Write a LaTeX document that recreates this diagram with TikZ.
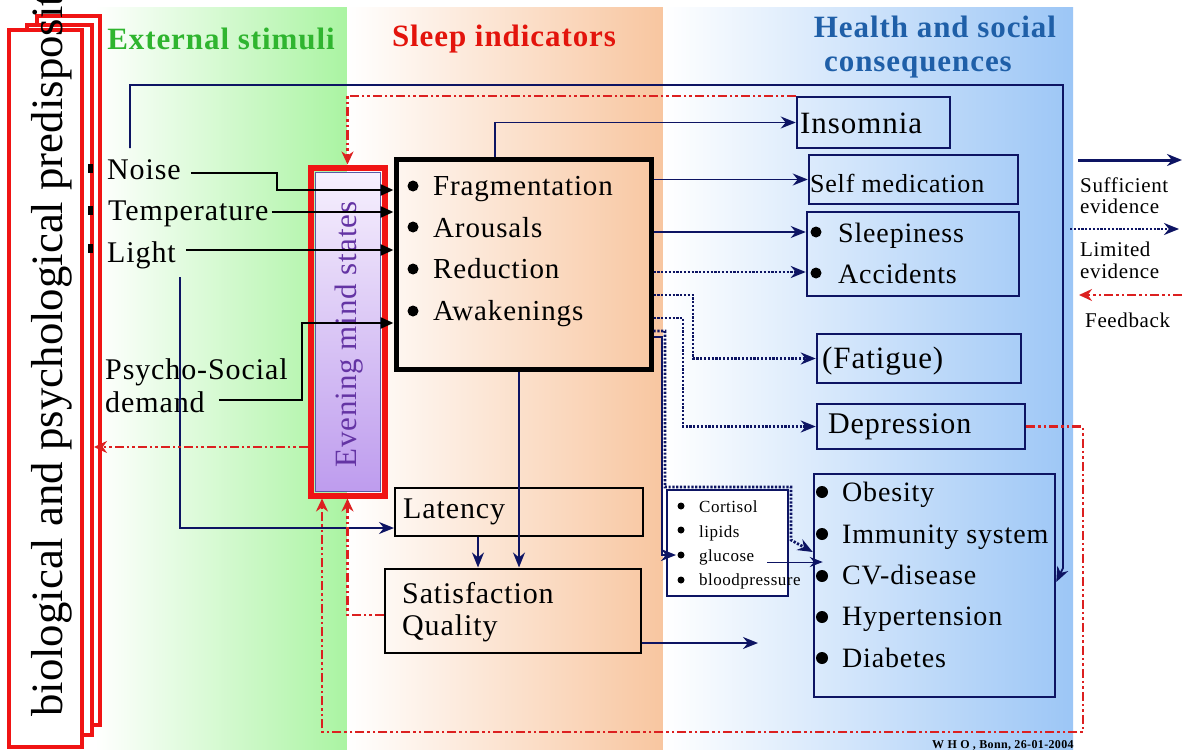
\documentclass[tikz,border=0pt]{standalone}
\usepackage{fontspec}
\setmainfont{Liberation Serif}[LetterSpace=3]
\newfontfamily\plainserif{Liberation Serif}
\usetikzlibrary{arrows.meta,calc}
\definecolor{navy}{HTML}{0D1463}
\definecolor{boxred}{HTML}{F01414}
\definecolor{fbred}{HTML}{DC2020}
\definecolor{hgreen}{HTML}{2FB52F}
\definecolor{hred}{HTML}{E3140C}
\definecolor{hblue}{HTML}{1F5FA8}
\definecolor{purp}{HTML}{6434A4}
\definecolor{bandgreen}{HTML}{AAF4A2}
\definecolor{bandorange}{HTML}{F8C6A0}
\definecolor{bandblue}{HTML}{9CC6F6}
\definecolor{evtop}{HTML}{F6F0FD}
\definecolor{evbot}{HTML}{BE9CEE}
\newcommand{\fsz}[1]{\fontsize{#1}{#1}\selectfont}
\begin{document}
\begin{tikzpicture}[x=1pt,y=-1pt,
  txt/.style={inner sep=0pt, anchor=base west, font={\fsz{30}}},
  hd/.style={inner sep=0pt, anchor=base, font={\fsz{31}\bfseries}},
  redbox/.style={draw=boxred, line width=4pt, fill=white},
  nbox/.style={draw=navy, line width=2.5pt},
  bkbox/.style={draw=black, line width=2pt},
  navyarrow/.style={draw=navy, line width=1.8pt, -{Stealth[length=15pt,width=12pt]}},
  navydot/.style={draw=navy, line width=2.8pt, dash pattern=on 2.2pt off 1.6pt, -{Stealth[length=15pt,width=12pt]}},
  blk/.style={draw=black, line width=2.6pt, -{Triangle[length=13pt,width=11pt]}},
  fb/.style={draw=fbred, line width=2.2pt, dash pattern=on 9pt off 3pt on 2.5pt off 3pt on 2.5pt off 3pt, -{Stealth[length=13pt,width=12pt]}}
]
\useasboundingbox (0,0) rectangle (1182,749);
\clip (0,0) rectangle (1182,749);
\fill[white] (0,0) rectangle (1182,749);
% background bands
\shade[left color=white,right color=bandgreen] (95,8) rectangle (347,749);
\shade[left color=white,right color=bandorange] (347,8) rectangle (663,749);
\shade[left color=white,right color=bandblue] (663,8) rectangle (1073,749);

% headers
\node[hd, text=hgreen] (h1) at (221,50) {External stimuli};
\node[hd, text=hred] (h2) at (504,47) {Sleep indicators};
\node[hd, text=hblue] (h3a) at (935,38) {Health and social};
\node[hd, text=hblue] (h3b) at (918,72) {consequences};

% predisposition boxes
\node[redbox, minimum width=63, minimum height=709] (bio3) at (68.5,370.5) {};
\node[redbox, minimum width=65, minimum height=710] (bio2) at (59.5,380) {};
\node[redbox, minimum width=73, minimum height=717] (bio1) at (45.5,388.5) {};
\node[rotate=90, anchor=base west, inner sep=0pt, font={\plainserif\fsz{44.8}}] (biotext) at (62,717) {biological and psychological predisposition};

% small stimulus markers
\fill (88,164) rectangle (93,173);
\fill (88,206) rectangle (93,215);
\fill (88,244) rectangle (93,253);

% stimuli texts
\node[txt] (tnoise) at (107,179) {Noise};
\node[txt] (ttemp) at (108,220) {Temperature};
\node[txt] (tlight) at (107,262) {Light};
\node[txt] (tpsy) at (105,379) {Psycho-Social};
\node[txt] (tdem) at (105,412) {demand};

% evening mind states
\shadedraw[top color=evtop, bottom color=evbot, draw=gray!70!blue, line width=0.8pt] (315,172) rectangle (380,491);
\node[draw=boxred, line width=6pt, minimum width=74, minimum height=328] (eve) at (347.5,331.5) {};
\node[rotate=90, anchor=base west, inner sep=0pt, font={\fsz{31}}, text=purp] (evetext) at (356,468) {Evening mind states};

% main sleep box
\node[draw=black, line width=5pt, minimum width=255, minimum height=210] (main) at (523.5,264) {};
\foreach \yy in {186,227,269,311} \fill (413,\yy) circle (5.5);
\node[txt, font={\fsz{29}}] (tfrag) at (433,195) {Fragmentation};
\node[txt, font={\fsz{29}}] (tarou) at (433,237) {Arousals};
\node[txt, font={\fsz{29}}] (tred) at (433,278) {Reduction};
\node[txt, font={\fsz{29}}] (tawak) at (433,320) {Awakenings};

% latency / satisfaction
\node[bkbox, minimum width=248, minimum height=48] (lat) at (519,512) {};
\node[txt] (tlat) at (403,518) {Latency};
\node[bkbox, minimum width=256, minimum height=84] (sat) at (512.5,610.5) {};
\node[txt] (tsat) at (402,603) {Satisfaction};
\node[txt] (tqual) at (402,635) {Quality};

% small physiological box
\node[draw=navy, line width=2pt, fill=white, minimum width=121, minimum height=106] (phys) at (727.5,543) {};
\foreach \yy in {506,530,555,580} \fill (681,\yy) circle (3.5);
\node[txt, font={\fsz{17}}] (tcort) at (699,512) {Cortisol};
\node[txt, font={\fsz{17}}] (tlip) at (699,537) {lipids};
\node[txt, font={\fsz{17}}] (tglu) at (699,561) {glucose};
\node[txt, font={\fsz{17}}] (tblood) at (699,585) {bloodpressure};

% right boxes
\node[nbox, minimum width=153, minimum height=51] (ins) at (873.5,122.5) {};
\node[txt, font={\fsz{31}}] (tins) at (800,133) {Insomnia};
\node[nbox, minimum width=209, minimum height=49] (sm) at (913.5,179.5) {};
\node[txt, font={\fsz{26}}] (tsm) at (810,192) {Self medication};
\node[nbox, minimum width=212, minimum height=84] (sa) at (913,254) {};
\foreach \yy in {232,273} \fill (816,\yy) circle (5.5);
\node[txt, font={\fsz{28}}] (tsleepy) at (838,242) {Sleepiness};
\node[txt, font={\fsz{28}}] (tacc) at (838,283) {Accidents};
\node[nbox, minimum width=204, minimum height=49] (fat) at (919,358.5) {};
\node[txt, font={\fsz{31}}] (tfat) at (822,368) {(Fatigue)};
\node[nbox, minimum width=208, minimum height=45] (dep) at (921,426.5) {};
\node[txt] (tdep) at (828,433) {Depression};
\node[nbox, minimum width=241, minimum height=223] (big) at (934.5,585.5) {};
\foreach \yy in {492,534,576,617,658} \fill (822,\yy) circle (6);
\node[txt, font={\fsz{28}}] (tob) at (842,501) {Obesity};
\node[txt, font={\fsz{28}}] (timm) at (842,543) {Immunity system};
\node[txt, font={\fsz{28}}] (tcv) at (842,584) {CV-disease};
\node[txt, font={\fsz{28}}] (thyp) at (842,625) {Hypertension};
\node[txt, font={\fsz{28}}] (tdia) at (842,667) {Diabetes};

% ---- connectors ----
\coordinate (topstart) at (130,148);
\draw[navyarrow] (topstart) |- (1063,85) -- (1063,568) -- (big.east |- 0,582);
\draw[fb] (ins.north west) -| (eve.north);
\draw[blk] ($(tnoise.east |- 0,173)+(10,0)$) -| (277,190) -- (main.west |- 0,190);
\draw[blk] ($(ttemp.east |- 0,212)+(3,0)$) -- (main.west |- 0,212);
\draw[blk] ($(tlight.east |- 0,250)+(10,0)$) -- (main.west |- 0,250);
\draw[blk] ($(tdem.east |- 0,400)+(14,0)$) -| (302,323) -- (main.west |- 0,323);
\coordinate (lightdown) at (180,277);
\draw[navyarrow] (lightdown) |- (lat.west |- 0,528);
\draw[fb] (eve.west |- 0,447) -- (bio2.east |- 0,447);
\draw[fb] (dep.east) -| (1083,732) -| ([xshift=-25.5pt]eve.south);
\draw[fb] (sat.west |- 0,615) -| (eve.south);
\draw[navyarrow] ([xshift=-41pt]lat.south) -- ([xshift=-41pt]lat.south |- sat.north);
\draw[navyarrow] ([xshift=-4.5pt]main.south) -- ([xshift=-4.5pt]main.south |- sat.north);
\coordinate (satout) at (758,643);
\draw[navyarrow] (sat.east |- satout) -- (satout);
\draw[navyarrow] ([xshift=-28.5pt]main.north) |- (ins.west);
\draw[navyarrow] (main.east |- sm.west) -- (sm.west);
\draw[navyarrow] (main.east |- 0,232) -- (sa.west |- 0,232);
\draw[navydot] (main.east |- 0,272) -- (sa.west |- 0,272);
\draw[navydot] (main.east |- 0,295) -- (693,295) |- (fat.west);
\draw[navydot] (main.east |- 0,318) -- (683,318) |- (dep.west);
\draw[navydot] (main.east |- 0,331) -- (665,331) -- (665,487) -- (791,487) -- (791,540) -- (big.west |- 0,552);
\draw[navyarrow] (main.east |- 0,337) -- (662,337) -- (662,555) -- ($(phys.west |- 0,555)+(10,0)$);
\coordinate (glustart) at (767,562);
\draw[draw=navy, line width=1pt, -{Stealth[length=13pt,width=10pt]}] (glustart) -- ($(big.west |- 0,562)+(10,0)$);

% legend
\coordinate (l1a) at (1078,160); \coordinate (l1b) at (1182,160);
\draw[draw=navy, line width=3pt, -{Stealth[length=15pt,width=12pt]}] (l1a) -- (l1b);
\node[txt, font={\fsz{21}}] (lsuf) at (1080,192) {Sufficient};
\node[txt, font={\fsz{21}}] (lev1) at (1080,213) {evidence};
\coordinate (l2a) at (1070,229); \coordinate (l2b) at (1179,229);
\draw[navydot, line width=2.2pt] (l2a) -- (l2b);
\node[txt, font={\fsz{21}}] (llim) at (1080,256) {Limited};
\node[txt, font={\fsz{21}}] (lev2) at (1080,278) {evidence};
\coordinate (l3a) at (1182,295); \coordinate (l3b) at (1079,295);
\draw[fb, line width=1.6pt] (l3a) -- (l3b);
\node[txt, font={\fsz{21}}] (lfb) at (1085,327) {Feedback};

% footer
\node[txt, font={\fsz{12}\bfseries}] (foot) at (932,748) {W H O , Bonn, 26-01-2004};
\end{tikzpicture}
\end{document}
